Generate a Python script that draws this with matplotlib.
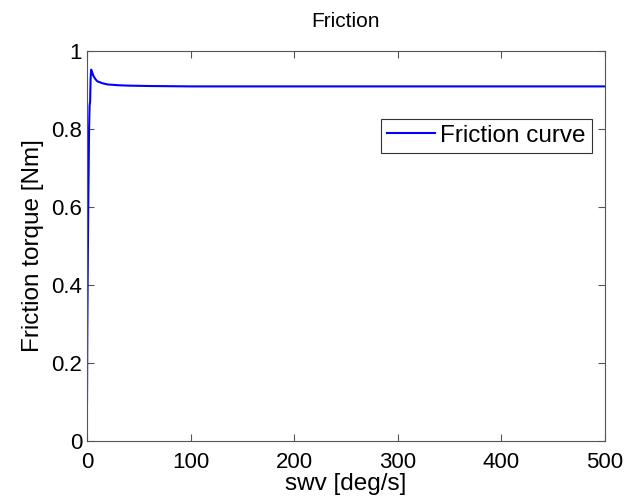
import matplotlib
matplotlib.use("Agg")
import matplotlib.pyplot as plt
import numpy as np

plt.rcParams['font.family'] = ['Liberation Sans', 'DejaVu Sans']

# swv [deg/s] vs friction torque [Nm]
swv = [0, 0.3, 0.8, 1.2, 1.6, 2.0, 2.5, 3.0, 3.5, 4.0, 5.0, 6.0, 8.0, 10, 15, 20, 30, 40, 60, 100, 200, 300, 500]
torque = [0.10, 0.29, 0.47, 0.60, 0.70, 0.80, 0.86, 0.87, 0.93, 0.952, 0.945, 0.937, 0.928, 0.922, 0.917, 0.914, 0.912, 0.911, 0.910, 0.909, 0.909, 0.909, 0.909]

fig = plt.figure(figsize=(6.26, 5.04), dpi=100)
ax = fig.add_axes([0.139, 0.125, 0.827, 0.774])

ax.plot(swv, torque, color='#0000ff', lw=1.5, label='Friction curve')

ax.set_xlim(0, 500)
ax.set_ylim(0, 1)
ax.set_xticks([0, 100, 200, 300, 400, 500])
ax.set_yticks([0, 0.2, 0.4, 0.6, 0.8, 1])
ax.set_yticklabels(['0', '0.2', '0.4', '0.6', '0.8', '1'])
ax.tick_params(direction='in', top=True, right=True, labelsize=16, length=5, color='#555555')
ax.tick_params(axis='x', pad=8)
for s in ax.spines.values():
    s.set_color('#555555')

ax.set_xlabel('swv [deg/s]', fontsize=17.5, labelpad=0)
ax.set_ylabel('Friction torque [Nm]', fontsize=17.5, labelpad=5)
ax.set_title('Friction', fontsize=15, pad=17)

leg = ax.legend(loc='upper right', bbox_to_anchor=(0.975, 0.826), fontsize=17.5,
                fancybox=False, framealpha=1, edgecolor='#333333',
                handlelength=2.0, borderpad=0.25, handletextpad=0.2, borderaxespad=0)
leg.get_frame().set_linewidth(0.8)

fig.savefig('out.png', dpi=100)
